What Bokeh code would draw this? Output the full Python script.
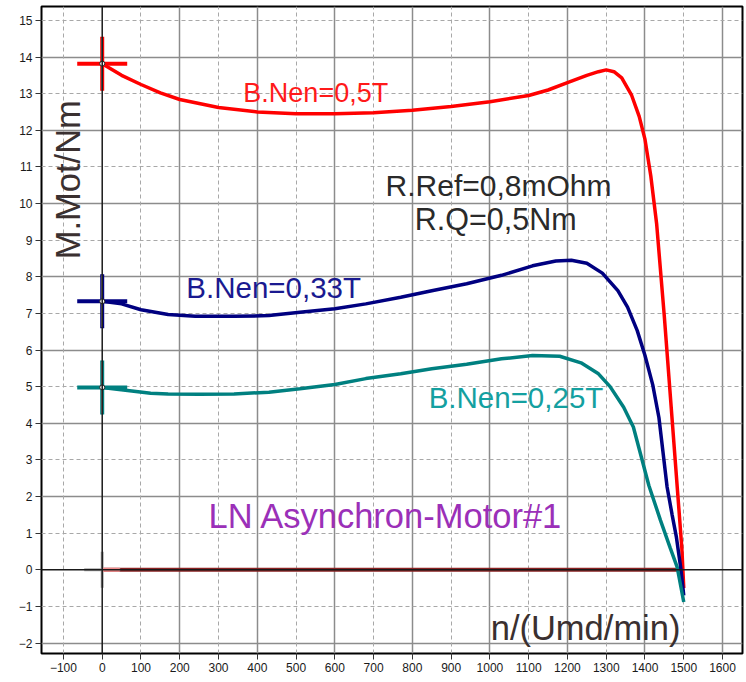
import numpy as np
from bokeh.plotting import figure
from bokeh.models import FixedTicker, Grid, Span, Label, Range1d, ColumnDataSource
from bokeh.embed import file_html
from bokeh.resources import INLINE

# ---------------- data ----------------
n_red = [0, 50, 100, 150, 200, 300, 400, 500, 600, 700, 800, 900, 1000, 1100, 1150,
         1200, 1250, 1280, 1300, 1320, 1340, 1365, 1385, 1400, 1415, 1430, 1450, 1470,
         1485, 1495, 1500]
m_red = [13.82, 13.5, 13.25, 13.02, 12.84, 12.62, 12.5, 12.45, 12.45, 12.48, 12.55, 12.65,
         12.78, 12.95, 13.1, 13.3, 13.5, 13.6, 13.65, 13.6, 13.43, 12.97, 12.38, 11.75,
         10.75, 9.45, 6.9, 4.1, 2.0, 0.6, -0.5]

n_navy = [0, 50, 100, 170, 240, 340, 430, 510, 600, 680, 770, 850, 940, 1030, 1110, 1170,
          1210, 1250, 1290, 1330, 1355, 1380, 1400, 1420, 1436, 1457, 1470, 1481, 1492, 1500]
m_navy = [7.33, 7.26, 7.1, 6.97, 6.92, 6.92, 6.94, 7.03, 7.13, 7.26, 7.44, 7.62, 7.81, 8.04,
          8.3, 8.43, 8.45, 8.37, 8.1, 7.62, 7.17, 6.53, 5.85, 5.05, 4.15, 2.26, 1.5, 0.89,
          0.07, -0.7]

n_teal = [0, 60, 125, 170, 250, 340, 430, 510, 600, 680, 770, 850, 940, 1030, 1110, 1180,
          1235, 1280, 1310, 1345, 1370, 1410, 1440, 1465, 1483, 1500]
m_teal = [4.98, 4.9, 4.82, 4.8, 4.79, 4.8, 4.85, 4.94, 5.06, 5.22, 5.35, 5.49, 5.61, 5.76,
          5.85, 5.83, 5.65, 5.35, 5.0, 4.44, 3.9, 2.3, 1.35, 0.6, 0.07, -0.88]

n_zero = [0, 45, 1497]
m_zero = [0, 0, 0]

x_ticks = list(range(-100, 1601, 100))
y_ticks = list(range(-2, 16))
x_grid_solid = [v for v in range(-200, 1601, 200) if v != 0]
x_grid_dash = list(range(-100, 1601, 200))
y_grid_solid = [v for v in range(-2, 16, 2) if v != 0]
y_grid_dash = list(range(-1, 16, 2))

labels = {
    "red": "B.Nen=0,5T",
    "navy": "B.Nen=0,33T",
    "teal": "B.Nen=0,25T",
    "rref": "R.Ref=0,8mOhm",
    "rq": "R.Q=0,5Nm",
    "title": "LN Asynchron-Motor#1",
    "xlab": "n/(Umd/min)",
    "ylab": "M.Mot/Nm",
}

# ---------------- figure ----------------
p = figure(width=746, height=682, output_backend="svg", toolbar_location=None,
           x_range=Range1d(-156.6, 1651.5), y_range=Range1d(-2.286, 15.38),
           min_border_left=41, min_border_right=4, min_border_top=6, min_border_bottom=29)
p.background_fill_color = "white"
p.border_fill_color = "white"
p.outline_line_color = "black"
p.outline_line_width = 2

for ax, ticks in ((p.xaxis, x_ticks), (p.yaxis, y_ticks)):
    ax.ticker = FixedTicker(ticks=ticks)
    ax.axis_line_color = None
    ax.major_tick_out = 6
    ax.major_tick_in = 0
    ax.minor_tick_out = 0
    ax.minor_tick_in = 0
    ax.major_tick_line_color = "#333333"
    ax.major_label_text_font = "Liberation Sans"
    ax.major_label_text_font_size = "12px"
    ax.major_label_text_color = "#1a1a1a"
    ax.major_label_standoff = 3

p.xgrid.ticker = FixedTicker(ticks=x_grid_solid)
p.ygrid.ticker = FixedTicker(ticks=y_grid_solid)
for g in (p.xgrid, p.ygrid):
    g.grid_line_color = "#8c8c8c"
    g.grid_line_width = 1.5
for dim, ticks in ((0, x_grid_dash), (1, y_grid_dash)):
    p.add_layout(Grid(dimension=dim, ticker=FixedTicker(ticks=ticks),
                      grid_line_color="#a8a8a8", grid_line_dash="4 3", grid_line_width=1))

p.add_layout(Span(location=0, dimension="height", line_color="#1a1a1a", line_width=1.5))
p.add_layout(Span(location=0, dimension="width", line_color="#1a1a1a", line_width=1.5))

# zero series
p.line(n_zero, m_zero, line_color="#8b2323", line_width=4)

series = [
    (n_red, m_red, "#ff0000", "#40c8c8", 50, 54),
    (n_navy, m_navy, "#000080", "#d8d890", 50, 54),
    (n_teal, m_teal, "#008080", "#e89088", 50, 54),
]
for nx, my, col, accent, hs, vs in series:
    p.line(nx, my, line_color=col, line_width=3.5)

# crosses at start point
for nx, my, col, accent, hs, vs in series:
    src = ColumnDataSource(dict(x=[nx[0]], y=[my[0]]))
    p.scatter("x", "y", source=src, marker="dash", size=hs, line_color=col, line_width=4)
    p.scatter("x", "y", source=src, marker="dash", size=vs, angle=np.pi / 2,
              line_color=col, line_width=4)
    p.scatter("x", "y", source=src, marker="dash", size=vs - 2, angle=np.pi / 2,
              line_color=accent, line_width=1.5)
    p.scatter("x", "y", source=src, marker="circle", size=5, fill_color="white",
              line_color="#222222", line_width=1)

zsrc = ColumnDataSource(dict(x=[n_zero[0]], y=[m_zero[0]]))
p.scatter("x", "y", source=zsrc, marker="dash", size=36, angle=np.pi / 2,
          line_color="#a8a8a8", line_width=3)
p.scatter("x", "y", source=zsrc, marker="dash", size=36, line_color="#a8a8a8", line_width=3)
p.line(n_zero[:2], m_zero[:2], line_color="#f08a8a", line_width=4)

def lab(text, x, y, color, size, angle=0.0, align="left"):
    p.add_layout(Label(x=x, y=y, text=text, text_color=color, text_font="Liberation Sans",
                       text_font_size=size, text_baseline="middle", text_align=align,
                       angle=angle))

lab(labels["red"], 364, 13.03, "#ff1a1a", "27px")
lab(labels["rref"], 731, 10.49, "#2a2a2a", "30px")
lab(labels["rq"], 806, 9.57, "#2a2a2a", "30.5px")
lab(labels["navy"], 217, 7.71, "#1a1a90", "29.5px")
lab(labels["teal"], 842, 4.71, "#14a0a0", "29.5px")
lab(labels["title"], 274, 1.46, "#9b30b8", "34.5px")
lab(labels["xlab"], 1002, -1.6, "#3a3030", "34.5px")
lab(labels["ylab"], -89, 10.65, "#3a3030", "34.5px", angle=np.pi / 2, align="center")

open("out.html", "w").write(file_html(p, INLINE))
